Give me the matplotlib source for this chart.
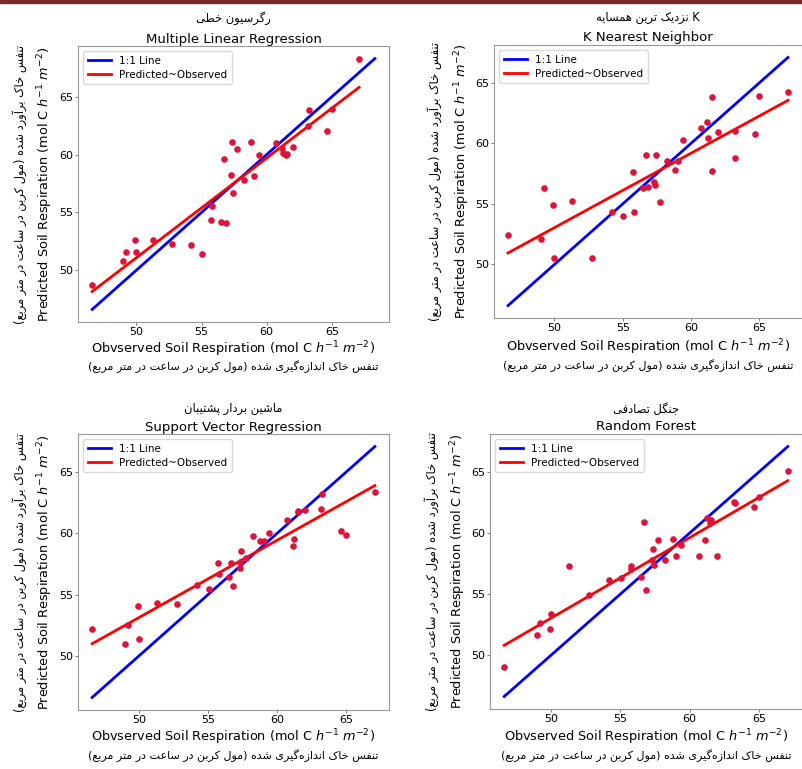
import numpy as np
import matplotlib

matplotlib.use("Agg")
import matplotlib.pyplot as plt
from matplotlib.patches import Rectangle

W, H = 803, 769
DPI = 100

# observed soil respiration (same test set in every panel)
observed = [46.6, 49.0, 49.2, 49.9, 50.0, 51.3, 52.75, 54.2, 55.05, 55.75, 55.8,
            56.5, 56.7, 56.85, 57.3, 57.35, 57.4, 57.75, 58.25, 58.8, 59.05, 59.4,
            60.7, 61.15, 61.25, 61.5, 61.55, 62.0, 63.2, 63.25, 64.65, 65.0, 67.1]

pred_mlr = [48.75, 50.81, 51.54, 52.59, 51.57, 52.62, 52.30, 52.21, 51.37, 54.33, 55.55,
            54.16, 59.62, 54.07, 58.23, 61.10, 56.66, 60.47, 57.79, 61.13, 58.11, 60.0,
            60.96, 60.55, 60.12, 59.97, 60.06, 60.64, 62.47, 63.87, 62.0, 63.92, 68.31]

pred_knn = [52.46, 52.07, 56.34, 54.87, 50.55, 55.26, 50.55, 54.34, 54.01, 57.67, 54.34,
            56.31, 59.02, 56.36, 56.83, 56.59, 59.05, 55.17, 58.55, 57.80, 58.55, 60.27,
            61.24, 61.79, 60.41, 57.75, 63.84, 60.93, 61.01, 58.83, 60.74, 63.92, 64.23]

pred_svr = [52.21, 50.97, 52.48, 54.11, 51.35, 54.33, 54.22, 55.79, 55.46, 57.56, 56.65,
            56.48, 57.56, 55.68, 57.17, 57.64, 58.60, 58.0, 59.82, 59.38, 59.38, 60.01,
            61.08, 58.99, 59.54, 61.75, 61.80, 61.88, 62.0, 63.24, 60.18, 59.90, 63.35]

pred_rf = [49.04, 51.62, 52.66, 52.11, 53.35, 57.32, 54.96, 56.14, 56.28, 57.27, 57.05,
           56.36, 60.94, 55.35, 57.76, 58.69, 57.40, 59.46, 57.79, 59.52, 58.09, 59.02,
           58.14, 59.46, 61.22, 60.85, 61.11, 58.12, 62.56, 62.45, 62.15, 63.0, 65.11]

titles_en = ["Multiple Linear Regression", "K Nearest Neighbor",
             "Support Vector Regression", "Random Forest"]
titles_fa = ["رگرسیون خطی", "K نزدیک ترین همسایه",
             "ماشین بردار پشتیبان", "جنگل تصادفی"]
xlabel_en = "Obvserved Soil Respiration (mol C $h^{-1}$ $m^{-2}$)"
ylabel_en = "Predicted Soil Respiration (mol C $h^{-1}$ $m^{-2}$)"
xlabel_fa = "تنفس خاک اندازه\u200cگیری شده (مول کربن در ساعت در متر مربع)"
ylabel_fa = "تنفس خاک برآورد شده (مول کربن در ساعت در متر مربع)"

# Arabic-script contextual forms: isolated, final, initial, medial
FORMS = {
    "ا": (0xFE8D, 0xFE8E), "آ": (0xFE81, 0xFE82),
    "د": (0xFEA9, 0xFEAA), "ر": (0xFEAD, 0xFEAE),
    "ز": (0xFEAF, 0xFEB0), "و": (0xFEED, 0xFEEE),
    "ب": (0xFE8F, 0xFE90, 0xFE91, 0xFE92), "پ": (0xFB56, 0xFB57, 0xFB58, 0xFB59),
    "ت": (0xFE95, 0xFE96, 0xFE97, 0xFE98), "ج": (0xFE9D, 0xFE9E, 0xFE9F, 0xFEA0),
    "خ": (0xFEA5, 0xFEA6, 0xFEA7, 0xFEA8), "س": (0xFEB1, 0xFEB2, 0xFEB3, 0xFEB4),
    "ش": (0xFEB5, 0xFEB6, 0xFEB7, 0xFEB8), "ص": (0xFEB9, 0xFEBA, 0xFEBB, 0xFEBC),
    "ط": (0xFEC1, 0xFEC2, 0xFEC3, 0xFEC4), "ع": (0xFEC9, 0xFECA, 0xFECB, 0xFECC),
    "ف": (0xFED1, 0xFED2, 0xFED3, 0xFED4), "ک": (0xFB8E, 0xFB8F, 0xFB90, 0xFB91),
    "گ": (0xFB92, 0xFB93, 0xFB94, 0xFB95), "ل": (0xFEDD, 0xFEDE, 0xFEDF, 0xFEE0),
    "م": (0xFEE1, 0xFEE2, 0xFEE3, 0xFEE4), "ن": (0xFEE5, 0xFEE6, 0xFEE7, 0xFEE8),
    "ه": (0xFEE9, 0xFEEA, 0xFEEB, 0xFEEC), "ی": (0xFBFC, 0xFBFD, 0xFBFE, 0xFBFF),
}
MIRROR = {"(": ")", ")": "("}


def rtl(s):
    """Shape Persian letters and reverse to visual order (matplotlib has no bidi)."""
    out = []
    for i, ch in enumerate(s):
        if ch not in FORMS:
            if ch != "\u200c":
                out.append(MIRROR.get(ch, ch))
            continue
        f = FORMS[ch]
        prev = s[i - 1] if i > 0 else ""
        nxt = s[i + 1] if i + 1 < len(s) else ""
        pj = prev in FORMS and len(FORMS[prev]) == 4
        nj = len(f) == 4 and nxt in FORMS
        if pj and nj:
            out.append(chr(f[3]))
        elif pj:
            out.append(chr(f[1]))
        elif nj:
            out.append(chr(f[2]))
        else:
            out.append(chr(f[0]))
    return "".join(out[::-1])


def fx(px):
    return px / W


def fy(py):
    return 1 - py / H


fig = plt.figure(figsize=(W / DPI, H / DPI), dpi=DPI)
fig.patches.append(Rectangle((0, fy(3)), 1, 3 / H, transform=fig.transFigure,
                             color="#7a2b2b", zorder=5))

# pixel boxes: left, top, right, bottom ; plus label positions
panels = [
    dict(box=(78, 46, 389, 322), fa_t=18, en_t=40, yl_en=45, yl_fa=20, xl_en=349, xl_fa=367),
    dict(box=(494, 45, 802, 318), fa_t=17, en_t=37, yl_en=462, yl_fa=435, xl_en=347, xl_fa=366),
    dict(box=(78, 434, 389, 710), fa_t=409, en_t=427, yl_en=45, yl_fa=20, xl_en=737, xl_fa=756),
    dict(box=(490, 434, 802, 709), fa_t=409, en_t=427, yl_en=458, yl_fa=432, xl_en=737, xl_fa=756),
]
preds = [pred_mlr, pred_knn, pred_svr, pred_rf]

obs = np.array(observed)
for p, pred, t_en, t_fa in zip(panels, preds, titles_en, titles_fa):
    l, t, r, b = p["box"]
    ax = fig.add_axes([fx(l), fy(b), fx(r) - fx(l), (b - t) / H])
    pred = np.array(pred)
    lo = min(obs.min(), pred.min())
    hi = max(obs.max(), pred.max())
    ax.plot([lo, hi], [lo, hi], color="blue", lw=2, label="1:1 Line")
    k, c = np.polyfit(obs, pred, 1)
    xs = np.array([obs.min(), obs.max()])
    ax.plot(xs, k * xs + c, color="red", lw=2, label="Predicted~Observed")
    ax.scatter(obs, pred, s=14, color="crimson", zorder=3)
    ax.set_xticks([50, 55, 60, 65])
    ax.set_yticks([50, 55, 60, 65])
    ax.tick_params(labelsize=8, length=2.5, width=0.6, color="0.4", pad=1.2)
    for sp in ax.spines.values():
        sp.set_color("0.6")
        sp.set_linewidth(0.8)
    ax.legend(loc="upper left", fontsize=7.5, handlelength=2.2, borderpad=0.45,
              labelspacing=0.35, framealpha=1, edgecolor="0.85")

    cx = (l + r) / 2
    cy = (t + b) / 2
    fig.text(fx(cx), fy(p["en_t"]), t_en, ha="center", va="center", fontsize=9.5)
    fig.text(fx(cx), fy(p["fa_t"]), rtl(t_fa), ha="center", va="center", fontsize=8.3)
    fig.text(fx(p["yl_en"]), fy(cy), ylabel_en, rotation=90, ha="center", va="center",
             fontsize=9.3)
    fig.text(fx(p["yl_fa"]), fy(cy), rtl(ylabel_fa), rotation=90, ha="center",
             va="center", fontsize=8.3)
    fig.text(fx(cx), fy(p["xl_en"]), xlabel_en, ha="center", va="center", fontsize=9.3)
    fig.text(fx(cx), fy(p["xl_fa"]), rtl(xlabel_fa), ha="center", va="center",
             fontsize=8)

fig.savefig("out.png", dpi=DPI)
